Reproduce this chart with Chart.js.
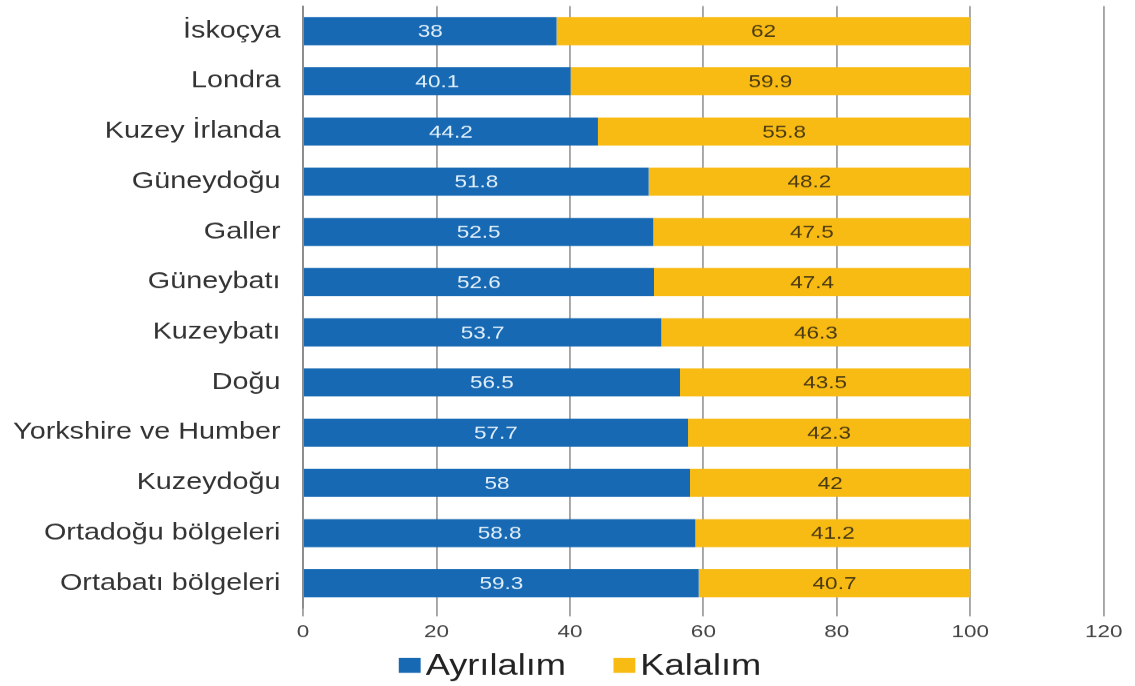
<!DOCTYPE html>
<html>
<head>
<meta charset="utf-8">
<script src="https://cdn.jsdelivr.net/npm/chart.js@4.4.1/dist/chart.umd.min.js"></script>
<style>
    html, body { margin: 0; padding: 0; background: #fff; overflow: hidden; }
    /* the reference is a horizontally stretched picture, so the whole chart is widened */
    #wrap { width: 908px; height: 686px; position: relative; transform: scaleX(1.25); transform-origin: 0 0; }
</style>
</head>
<body>
<div id="wrap"><canvas id="regionChart"></canvas></div>
<script>
const regions = ['İskoçya', 'Londra', 'Kuzey İrlanda', 'Güneydoğu', 'Galler', 'Güneybatı',
    'Kuzeybatı', 'Doğu', 'Yorkshire ve Humber', 'Kuzeydoğu', 'Ortadoğu bölgeleri', 'Ortabatı bölgeleri'];
const leaveValues = [38, 40.1, 44.2, 51.8, 52.5, 52.6, 53.7, 56.5, 57.7, 58, 58.8, 59.3];
const remainValues = [62, 59.9, 55.8, 48.2, 47.5, 47.4, 46.3, 43.5, 42.3, 42, 41.2, 40.7];
const xTicks = [0, 20, 40, 60, 80, 100, 120];

const FONT = "'Liberation Sans', Arial, sans-serif";

// draws the value in the middle of every bar
const barLabels = {
    id: 'barLabels',
    afterDatasetsDraw(chart) {
        const ctx = chart.ctx;
        ctx.save();
        ctx.font = `18px ${FONT}`;
        ctx.textAlign = 'center';
        ctx.textBaseline = 'middle';
        chart.data.datasets.forEach((ds, i) => {
            const meta = chart.getDatasetMeta(i);
            ctx.fillStyle = ds.labelColor;
            meta.data.forEach((bar, j) => {
                const x = (bar.x + bar.base) / 2;
                ctx.fillText(String(ds.data[j]), x, bar.y + 1);
            });
        });
        ctx.restore();
    }
};

// legend under the axis, squares close to the text
const bottomLegend = {
    id: 'bottomLegend',
    afterDraw(chart) {
        const ctx = chart.ctx;
        const boxW = 17.5, boxH = 15, textGap = 4, itemGap = 38;
        const y = 665;
        ctx.save();
        ctx.font = `29px ${FONT}`;
        ctx.textBaseline = 'middle';
        const items = chart.data.datasets.map(ds => ({
            text: ds.label,
            color: ds.backgroundColor,
            width: boxW + textGap + ctx.measureText(ds.label).width
        }));
        const total = items.reduce((s, it) => s + it.width, 0) + itemGap * (items.length - 1);
        let x = 464 - total / 2;
        items.forEach(it => {
            ctx.fillStyle = it.color;
            ctx.fillRect(x, y - boxH / 2, boxW, boxH);
            ctx.fillStyle = '#222';
            ctx.fillText(it.text, x + boxW + textGap, y + 1);
            x += it.width + itemGap;
        });
        ctx.restore();
    }
};

new Chart(document.getElementById('regionChart'), {
    type: 'bar',
    data: {
        labels: regions,
        datasets: [{
            label: 'Ayrılalım',
            data: leaveValues,
            backgroundColor: '#1769b3',
            labelColor: '#e2f0fb',
            barPercentage: 0.56,
            categoryPercentage: 1
        }, {
            label: 'Kalalım',
            data: remainValues,
            backgroundColor: '#f8bb14',
            labelColor: '#4a3a12',
            barPercentage: 0.56,
            categoryPercentage: 1
        }]
    },
    options: {
        indexAxis: 'y',
        responsive: true,
        maintainAspectRatio: false,
        animation: false,
        devicePixelRatio: 1.25,
        layout: { padding: { top: 6, right: 25, left: 0, bottom: 36 } },
        scales: {
            x: {
                stacked: true,
                min: 0,
                max: 120,
                afterBuildTicks: (scale) => {
                    scale.ticks = xTicks.map(v => ({ value: v }));
                },
                afterFit: (scale) => { scale.height = 42; },
                grid: {
                    color: '#a4a4a4',
                    lineWidth: 1.5,
                    drawTicks: true,
                    tickLength: 8
                },
                border: { display: false },
                ticks: {
                    color: '#444',
                    padding: 5,
                    font: { family: FONT, size: 18 }
                }
            },
            y: {
                stacked: true,
                afterFit: (scale) => {
                    scale.width = 242.4;
                    scale.paddingTop = 0;
                    scale.paddingBottom = 0;
                },
                grid: { display: false, drawTicks: false },
                border: { display: true, color: '#8a8a8a', width: 1.5 },
                ticks: {
                    color: '#333',
                    padding: 18,
                    font: { family: FONT, size: 23 }
                }
            }
        },
        plugins: {
            legend: { display: false },
            tooltip: { enabled: false }
        }
    },
    plugins: [barLabels, bottomLegend]
});
</script>
</body>
</html>
